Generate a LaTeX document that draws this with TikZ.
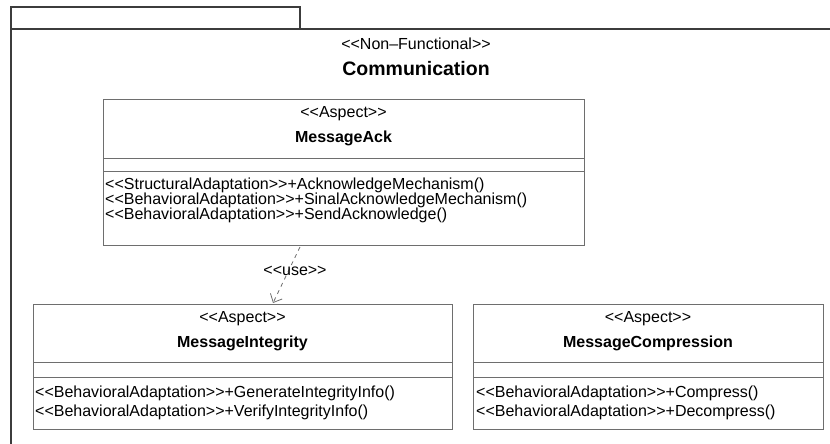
\documentclass[tikz,border=0pt]{standalone}
\usepackage{fontspec}
\setmainfont{Liberation Sans}[Ligatures=TeXOff]
\usepackage{tikz}
\usetikzlibrary{arrows.meta, positioning, calc}
\definecolor{umlLine}{RGB}{110,110,110}
\definecolor{pkgLine}{RGB}{60,60,60}

\begin{document}
\begin{tikzpicture}[x=1pt, y=-1pt,
    pkgframe/.style={rectangle, draw=pkgLine, line width=1.2pt, anchor=north west,
        inner sep=0pt, outer sep=0pt},
    classbox/.style={rectangle, draw=umlLine, line width=1pt, fill=white,
        anchor=north west, inner sep=0pt, outer sep=0pt},
    sep/.style={draw=umlLine, line width=1pt},
    stereo/.style={font=\fontsize{16}{19}\selectfont, inner sep=0pt},
    cname/.style={font=\fontsize{16}{19}\selectfont\bfseries, inner sep=0pt},
    pkgname/.style={font=\fontsize{19.5}{23}\selectfont\bfseries, inner sep=0pt},
    oper/.style={font=\fontsize{16}{19}\selectfont, anchor=west, inner sep=0pt},
    usedep/.style={draw=umlLine, line width=0.8pt, dash pattern=on 4pt off 4pt,
        -{Straight Barb[length=7pt, width=13pt]}}
]
\useasboundingbox (0,0) rectangle (830,444);
\clip (0,0) rectangle (830,444);

% package Communication
\node[pkgframe, minimum width=289pt, minimum height=22pt] (tab) at (11,7) {};
\node[pkgframe, minimum width=850pt, minimum height=450pt] (pkg) at (11,29) {};
\node[stereo] (pkgst) at (416,44) {<<Non–Functional>>};
\node[pkgname] (pkgtitle) at (416,69) {Communication};

% aspect MessageAck
\node[classbox, minimum width=481pt, minimum height=146pt] (ack) at (103,99) {};
\draw[sep] ([yshift=-59pt]ack.north west) -- ([yshift=-59pt]ack.north east);
\draw[sep] ([yshift=-72pt]ack.north west) -- ([yshift=-72pt]ack.north east);
\node[stereo] (ackst) at (343.5,114) {<<Aspect>>};
\node[cname] (ackname) at (343.5,138) {MessageAck};
\node[oper] (ackop1) at (105,185) {<<StructuralAdaptation>>+AcknowledgeMechanism()};
\node[oper] (ackop2) at (105,200) {<<BehavioralAdaptation>>+SinalAcknowledgeMechanism()};
\node[oper] (ackop3) at (105,215) {<<BehavioralAdaptation>>+SendAcknowledge()};

% aspect MessageIntegrity
\node[classbox, minimum width=419pt, minimum height=125pt] (integ) at (33,304) {};
\draw[sep] ([yshift=-58pt]integ.north west) -- ([yshift=-58pt]integ.north east);
\draw[sep] ([yshift=-73pt]integ.north west) -- ([yshift=-73pt]integ.north east);
\node[stereo] (integst) at (242.5,319) {<<Aspect>>};
\node[cname] (integname) at (242.5,343) {MessageIntegrity};
\node[oper] (integop1) at (35,393) {<<BehavioralAdaptation>>+GenerateIntegrityInfo()};
\node[oper] (integop2) at (35,412) {<<BehavioralAdaptation>>+VerifyIntegrityInfo()};

% aspect MessageCompression
\node[classbox, minimum width=350pt, minimum height=125pt] (compr) at (473,304) {};
\draw[sep] ([yshift=-58pt]compr.north west) -- ([yshift=-58pt]compr.north east);
\draw[sep] ([yshift=-73pt]compr.north west) -- ([yshift=-73pt]compr.north east);
\node[stereo] (comprst) at (648,319) {<<Aspect>>};
\node[cname] (comprname) at (648,343) {MessageCompression};
\node[oper] (comprop1) at (476,393) {<<BehavioralAdaptation>>+Compress()};
\node[oper] (comprop2) at (476,412) {<<BehavioralAdaptation>>+Decompress()};

% use dependency
\draw[usedep] ([xshift=-43.5pt, yshift=-2pt]ack.south) -- ([xshift=30.5pt, yshift=1pt]integ.north);
\node[stereo] (uselbl) at (295,271) {<<use>>};
\end{tikzpicture}
\end{document}
